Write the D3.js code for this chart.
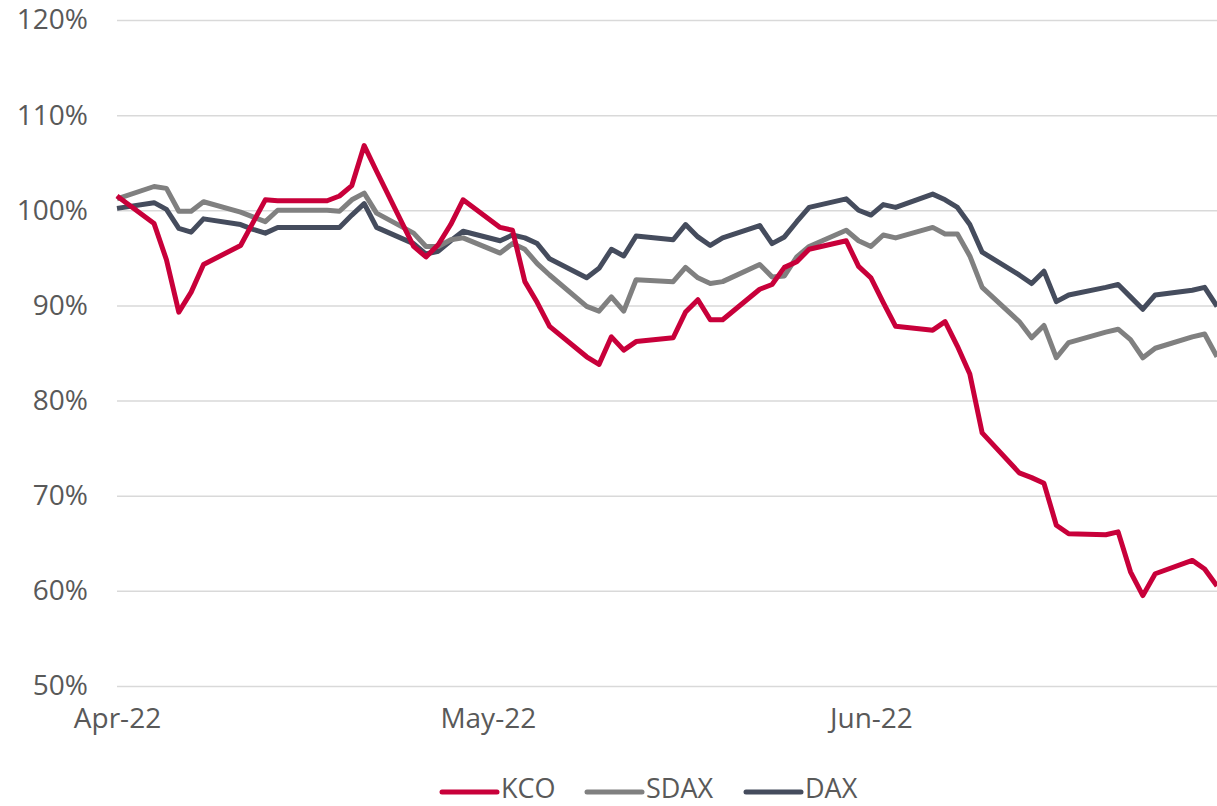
<!DOCTYPE html>
<html>
<head>
<meta charset="utf-8">
<script src="https://cdn.jsdelivr.net/npm/d3@7"></script>
<style>
  body { margin: 0; background: #fff; }
  svg { display: block; }
  text { font-family: "Open Sans", "Noto Sans", sans-serif; }
</style>
</head>
<body>
<svg id="chart" width="1217" height="806"></svg>
<script>
// ---- data ----
const dates = [
  "2022-04-01","2022-04-04","2022-04-05","2022-04-06","2022-04-07","2022-04-08",
  "2022-04-11","2022-04-12","2022-04-13","2022-04-14","2022-04-15",
  "2022-04-18","2022-04-19","2022-04-20","2022-04-21","2022-04-22",
  "2022-04-25","2022-04-26","2022-04-27","2022-04-28","2022-04-29",
  "2022-05-02","2022-05-03","2022-05-04","2022-05-05","2022-05-06",
  "2022-05-09","2022-05-10","2022-05-11","2022-05-12","2022-05-13",
  "2022-05-16","2022-05-17","2022-05-18","2022-05-19","2022-05-20",
  "2022-05-23","2022-05-24","2022-05-25","2022-05-26","2022-05-27",
  "2022-05-30","2022-05-31","2022-06-01","2022-06-02","2022-06-03",
  "2022-06-06","2022-06-07","2022-06-08","2022-06-09","2022-06-10",
  "2022-06-13","2022-06-14","2022-06-15","2022-06-16","2022-06-17",
  "2022-06-20","2022-06-21","2022-06-22","2022-06-23","2022-06-24",
  "2022-06-27","2022-06-28","2022-06-29"
];
const kco = [
  101.5, 98.6, 94.8, 89.3, 91.4, 94.3,
  96.3, 98.7, 101.1, 101.0, 101.0,
  101.0, 101.5, 102.6, 106.8, 104.1,
  96.2, 95.1, 96.4, 98.5, 101.1,
  98.2, 97.9, 92.5, 90.3, 87.8,
  84.6, 83.8, 86.7, 85.3, 86.2,
  86.6, 89.3, 90.6, 88.5, 88.5,
  91.7, 92.2, 94.0, 94.6, 95.9,
  96.8, 94.1, 92.9, 90.3, 87.8,
  87.4, 88.3, 85.7, 82.8, 76.6,
  72.4, 71.9, 71.3, 66.9, 66.0,
  65.9, 66.2, 62.0, 59.5, 61.8,
  63.2, 62.3, 60.5
];
const sdax = [
  101.2, 102.5, 102.3, 99.9, 99.9, 100.9,
  99.8, 99.3, 98.8, 100.0, 100.0,
  100.0, 99.9, 101.1, 101.8, 99.7,
  97.6, 96.2, 96.2, 96.9, 97.1,
  95.5, 96.5, 95.9, 94.4, 93.2,
  89.9, 89.4, 90.9, 89.4, 92.7,
  92.5, 94.0, 92.9, 92.3, 92.5,
  94.3, 93.0, 93.1, 95.1, 96.2,
  97.9, 96.8, 96.2, 97.4, 97.1,
  98.2, 97.5, 97.5, 95.2, 91.9,
  88.3, 86.6, 87.9, 84.5, 86.1,
  87.2, 87.5, 86.4, 84.5, 85.5,
  86.7, 87.0, 84.6
];
const dax = [
  100.2, 100.8, 100.1, 98.1, 97.7, 99.1,
  98.5, 98.0, 97.6, 98.2, 98.2,
  98.2, 98.2, 99.5, 100.7, 98.2,
  96.5, 95.4, 95.7, 96.8, 97.8,
  96.8, 97.4, 97.1, 96.5, 94.9,
  92.9, 93.9, 95.9, 95.2, 97.3,
  96.9, 98.5, 97.2, 96.3, 97.1,
  98.4, 96.5, 97.2, 98.8, 100.3,
  101.2, 100.0, 99.5, 100.6, 100.3,
  101.7, 101.1, 100.3, 98.5, 95.6,
  93.2, 92.3, 93.6, 90.4, 91.1,
  91.9, 92.2, 90.9, 89.6, 91.1,
  91.6, 91.9, 89.9
];
const seriesNames = ["KCO", "SDAX", "DAX"];
const seriesColors = ["#C8003A", "#808080", "#454C5D"];
const yTicks = [50, 60, 70, 80, 90, 100, 110, 120];
const xTicks = ["2022-04-01", "2022-05-01", "2022-06-01"];

// ---- chart ----
(function () {
const svg = d3.select("#chart");
const mLeft = 117, mRight = 1217, mTop = 20, mBottom = 686;
const parse = d3.utcParse("%Y-%m-%d");
const dateObjs = dates.map(parse);

const x = d3.scaleUtc()
  .domain([dateObjs[0], dateObjs[dateObjs.length - 1]])
  .range([mLeft, mRight]);
const y = d3.scaleLinear().domain([50, 120]).range([mBottom, mTop]);

const textColor = "#595959";

// y axis with gridlines
const yAxis = svg.append("g")
  .attr("transform", `translate(${mLeft},0)`)
  .call(d3.axisLeft(y).tickValues(yTicks).tickSize(-(mRight - mLeft)).tickPadding(29)
    .tickFormat(d => d + "%"));
yAxis.select(".domain").remove();
yAxis.selectAll(".tick line").attr("stroke", "#D9D9D9").attr("stroke-width", 1.5);
yAxis.selectAll(".tick text")
  .attr("fill", textColor).style("font-size", "28px");

// x axis
const xAxis = svg.append("g")
  .attr("transform", `translate(0,${mBottom})`)
  .call(d3.axisBottom(x).tickValues(xTicks.map(parse)).tickSize(0).tickPadding(22)
    .tickFormat(d3.utcFormat("%b-%y")));
xAxis.select(".domain").remove();
xAxis.selectAll(".tick text")
  .attr("fill", textColor).style("font-size", "28px");

// lines
const allSeries = [kco, sdax, dax];
const line = d3.line()
  .x((d, i) => x(dateObjs[i]))
  .y(d => y(d));

[2, 1, 0].forEach(k => {
  svg.append("path")
    .datum(allSeries[k])
    .attr("fill", "none")
    .attr("stroke", seriesColors[k])
    .attr("stroke-width", 5)
    .attr("stroke-linejoin", "round")
    .attr("stroke-linecap", "butt")
    .attr("d", line);
});

// legend
const legendY = 789;
const legendItems = [442, 587, 746];
const legend = svg.append("g");
seriesNames.forEach((name, i) => {
  const lx = legendItems[i];
  legend.append("line")
    .attr("x1", lx).attr("x2", lx + 55)
    .attr("y1", legendY + 3).attr("y2", legendY + 3)
    .attr("stroke", seriesColors[i]).attr("stroke-width", 5)
    .attr("stroke-linecap", "round");
  legend.append("text")
    .attr("x", lx + 59).attr("y", legendY)
    .attr("dy", "0.35em")
    .attr("fill", textColor)
    .style("font-size", "27px")
    .text(name);
});
})();
</script>
</body>
</html>
